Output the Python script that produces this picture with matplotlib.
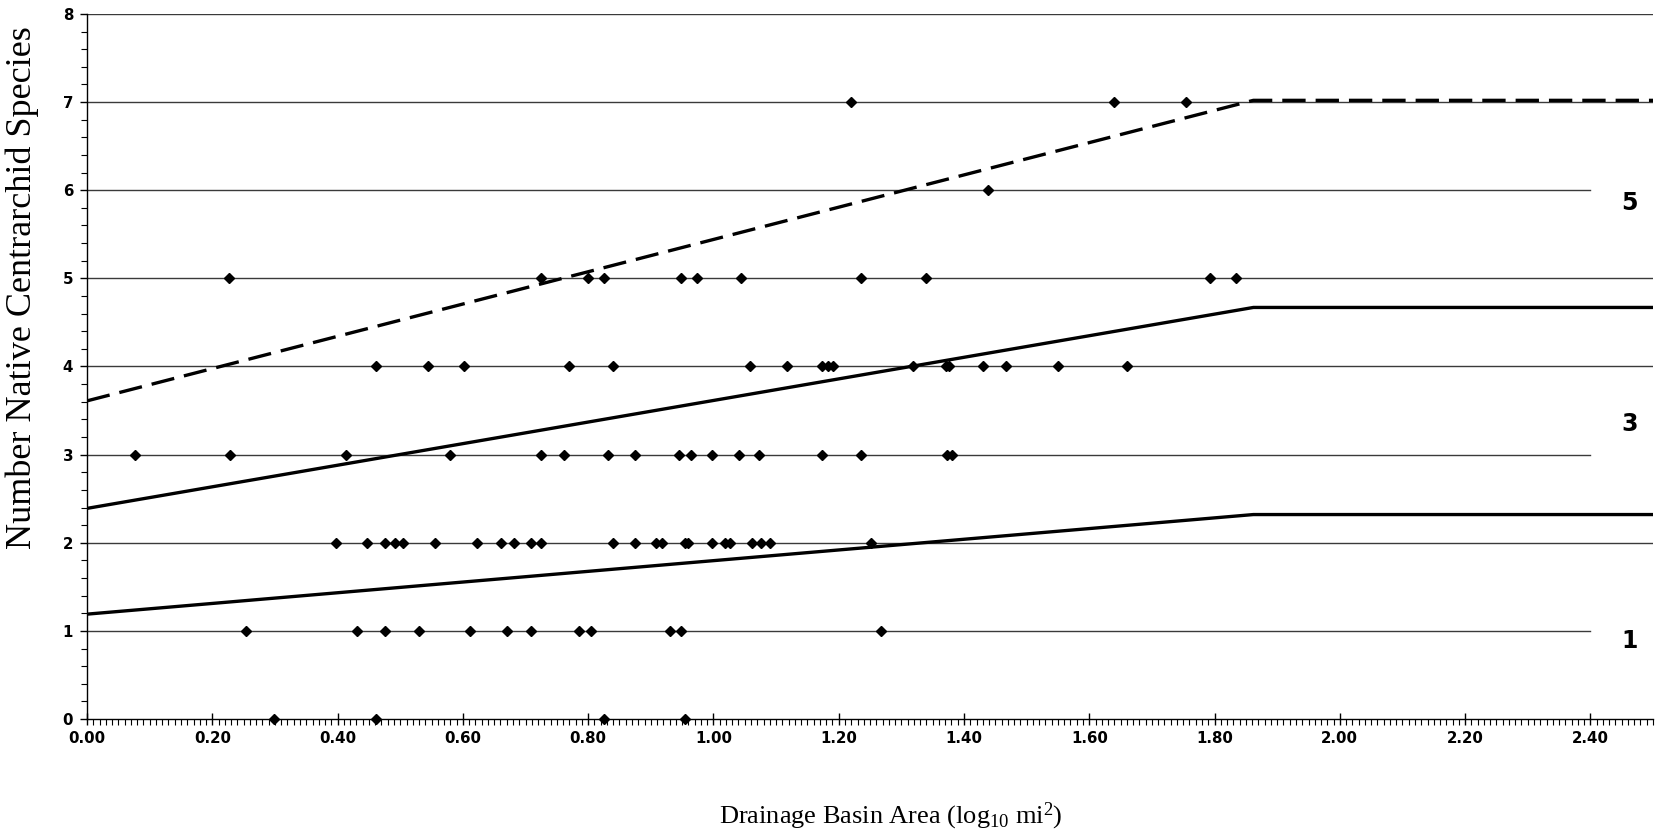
import matplotlib
matplotlib.use("Agg")
import matplotlib.pyplot as plt
from matplotlib.ticker import MultipleLocator, FormatStrFormatter

plt.rcParams['mathtext.fontset'] = 'custom'
plt.rcParams['mathtext.rm'] = 'Liberation Serif'
plt.rcParams['mathtext.it'] = 'Liberation Serif:italic'

# basin area (log10 mi2) of each site, grouped by species count
area_0 = [0.299, 0.462, 0.826, 0.954]
area_1 = [0.253, 0.431, 0.476, 0.530, 0.611, 0.671, 0.708, 0.786, 0.805,
          0.930, 0.949, 1.267]
area_2 = [0.397, 0.447, 0.476, 0.491, 0.505, 0.556, 0.623, 0.661, 0.681,
          0.708, 0.725, 0.840, 0.874, 0.908, 0.918, 0.955, 0.959, 0.997,
          1.018, 1.026, 1.062, 1.076, 1.091, 1.252]
area_3 = [0.076, 0.228, 0.414, 0.579, 0.725, 0.762, 0.832, 0.874, 0.945,
          0.964, 0.997, 1.041, 1.072, 1.174, 1.235, 1.373, 1.381]
area_4 = [0.462, 0.544, 0.602, 0.770, 0.840, 1.058, 1.118, 1.174, 1.183,
          1.191, 1.318, 1.372, 1.376, 1.431, 1.467, 1.550, 1.661]
area_5 = [0.227, 0.725, 0.800, 0.826, 0.949, 0.974, 1.044, 1.235, 1.340,
          1.793, 1.835]
area_6 = [1.439]
area_7 = [1.220, 1.640, 1.755]

# scoring lines (max species line dashed, 1/3 and 2/3 trisection lines solid)
line_x = [0.0, 1.862, 2.5]
max_line = [3.61, 7.02, 7.02]
upper_line = [2.39, 4.67, 4.67]
lower_line = [1.19, 2.32, 2.32]

score_labels = ["1", "3", "5"]
score_y = [0.88, 3.35, 5.86]

rows = [area_0, area_1, area_2, area_3, area_4, area_5, area_6, area_7]
xs, ys = [], []
for count, areas in enumerate(rows):
    xs += areas
    ys += [count] * len(areas)

fig = plt.figure(figsize=(16.58, 8.32), dpi=100)
ax = fig.add_axes([0.0525, 0.1358, 0.9445, 0.8474])

# horizontal guide lines; the ones next to the score labels stop short
for level in range(1, 9):
    right = 2.40 if level in (1, 3, 6) else 2.5
    ax.plot([0, right], [level, level], color="#3a3a3a", lw=1.0, zorder=1)

ax.plot(line_x, max_line, color="black", lw=2.4, ls=(0, (7, 3)), zorder=2)
ax.plot(line_x, upper_line, color="black", lw=2.4, zorder=2)
ax.plot(line_x, lower_line, color="black", lw=2.4, zorder=2)

ax.plot(xs, ys, "D", color="black", ms=5, ls="none", zorder=3, clip_on=False)

for lab, yy in zip(score_labels, score_y):
    ax.text(2.462, yy, lab, ha="center", va="center", fontsize=17,
            fontweight="bold", family="DejaVu Sans")

ax.set_xlim(0, 2.5)
ax.set_ylim(0, 8)
for side in ("top", "right"):
    ax.spines[side].set_visible(False)
ax.spines["left"].set_linewidth(1.0)
ax.spines["bottom"].set_linewidth(1.0)

ax.xaxis.set_major_locator(MultipleLocator(0.2))
ax.xaxis.set_minor_locator(MultipleLocator(0.01))
ax.xaxis.set_major_formatter(FormatStrFormatter("%.2f"))
ax.yaxis.set_major_locator(MultipleLocator(1))
ax.yaxis.set_minor_locator(MultipleLocator(0.2))

ax.tick_params(axis="x", which="major", direction="inout", length=9, width=1,
               pad=4)
ax.tick_params(axis="x", which="minor", direction="out", length=4, width=0.8)
ax.tick_params(axis="y", which="major", direction="out", length=5, width=1,
               pad=5)
ax.tick_params(axis="y", which="minor", direction="out", length=4, width=0.8)
for lab in ax.get_xticklabels() + ax.get_yticklabels():
    lab.set_fontweight("bold")
    lab.set_fontsize(10.8)
    lab.set_family("DejaVu Sans")

fig.text(891 / 1658, 1 - 816 / 832, r"Drainage Basin Area (log$_{10}$ mi$^{2}$)",
         ha="center", va="center", fontsize=19, family="Liberation Serif")
fig.text(22 / 1658, 1 - 288 / 832, "Number Native Centrarchid Species",
         ha="center", va="center", rotation=90, fontsize=26,
         family="Liberation Serif")

fig.savefig("out.png", dpi=100)
